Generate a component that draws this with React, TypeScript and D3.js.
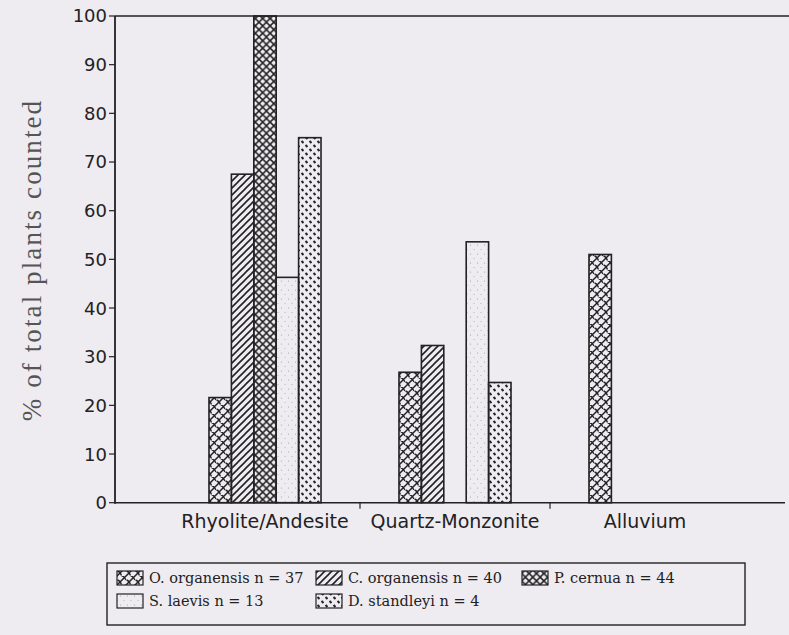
import React from "react";
import * as d3 from "d3";

const categories = ["Rhyolite/Andesite", "Quartz-Monzonite", "Alluvium"];
const species = ["O. organensis", "C. organensis", "P. cernua", "S. laevis", "D. standleyi"];
const sampleSizes = [37, 40, 44, 13, 4];
const oOrganensis = [21.6, 26.8, 51];
const cOrganensis = [67.5, 32.3, 0];
const pCernua = [100, 0, 0];
const sLaevis = [46.3, 53.6, 0];
const dStandleyi = [75, 24.7, 0];
const yTicks = [0, 10, 20, 30, 40, 50, 60, 70, 80, 90, 100];
const yLabel = "% of total plants counted";

const seriesValues = [oOrganensis, cOrganensis, pCernua, sLaevis, dStandleyi];
const patternIds = ["pO", "pC", "pP", "pS", "pD"];

const W = 789;
const H = 635;
const INK = "#222";

export default function App() {
  const y = d3.scaleLinear().domain([0, 100]).range([502.7, 16]);
  const x0 = d3.scaleBand<string>().domain(categories).range([170, 740]);
  const x1 = d3
    .scaleBand<string>()
    .domain(species)
    .range([0, x0.bandwidth()])
    .paddingInner(0)
    .paddingOuter(1.74);

  const bars: { key: string; x: number; y: number; w: number; h: number; s: number }[] = [];
  categories.forEach((c, ci) => {
    species.forEach((sp, si) => {
      const v = seriesValues[si][ci];
      if (v > 0) {
        bars.push({
          key: c + sp,
          x: (x0(c) as number) + (x1(sp) as number),
          y: y(v),
          w: x1.bandwidth(),
          h: y(0) - y(v),
          s: si,
        });
      }
    });
  });

  const legendCols = [117, 316, 522];
  const legendRows = [571, 594];
  const legendPos = [
    [0, 0],
    [1, 0],
    [2, 0],
    [0, 1],
    [1, 1],
  ];

  return (
    <svg
      width={W}
      height={H}
      style={{ position: "absolute", left: 0, top: 0, background: "#eeebf1" }}
    >
      <defs>
        <pattern id="pO" width="9" height="9" patternUnits="userSpaceOnUse">
          <path d="M0,9 L9,0 M-1,1 L1,-1 M8,10 L10,8" stroke={INK} strokeWidth="1.5" fill="none" />
          <path d="M0.5,4 Q3,4.5 4.5,8.5" stroke={INK} strokeWidth="1.3" fill="none" />
          <path d="M4.5,-0.5 Q7,0 9,4" stroke={INK} strokeWidth="1.3" fill="none" />
        </pattern>
        <pattern id="pC" width="7" height="7" patternUnits="userSpaceOnUse">
          <path d="M0,7 L7,0 M-1,1 L1,-1 M6,8 L8,6" stroke={INK} strokeWidth="1.6" fill="none" />
        </pattern>
        <pattern id="pP" width="7.4" height="7.4" patternUnits="userSpaceOnUse">
          <path d="M0,0 L7.4,7.4 M7.4,0 L0,7.4" stroke={INK} strokeWidth="1.5" fill="none" />
        </pattern>
        <pattern id="pS" width="7" height="9" patternUnits="userSpaceOnUse">
          <circle cx="1.5" cy="2" r="0.6" fill="#a0a0a0" />
          <circle cx="5" cy="6.5" r="0.6" fill="#b0b0b0" />
        </pattern>
        <pattern id="pD" width="8" height="8" patternUnits="userSpaceOnUse">
          <path d="M1.5,1 L3.5,3 M5.5,5 L7.5,7" stroke={INK} strokeWidth="2" fill="none" />
        </pattern>
      </defs>

      {/* frame lines */}
      <line x1={115} x2={789} y1={y(100)} y2={y(100)} stroke={INK} strokeWidth={1.4} />
      <line x1={115} x2={785} y1={y(0)} y2={y(0)} stroke={INK} strokeWidth={1.4} />
      <line x1={115} x2={115} y1={y(100)} y2={y(0) + 1} stroke={INK} strokeWidth={1.8} />

      {/* y ticks */}
      {yTicks.map((t) => (
        <g key={t}>
          <line x1={109} x2={115} y1={y(t)} y2={y(t)} stroke={INK} strokeWidth={1.2} />
          <text
            x={107}
            y={y(t)}
            dy="0.36em"
            textAnchor="end"
            fontFamily="DejaVu Sans"
            fontSize={18}
            fill={INK}
          >
            {t}
          </text>
        </g>
      ))}

      {/* x ticks between categories */}
      {categories.slice(1).map((c) => (
        <line
          key={c}
          x1={x0(c) as number}
          x2={x0(c) as number}
          y1={y(0)}
          y2={y(0) + 6}
          stroke={INK}
          strokeWidth={1.2}
        />
      ))}

      {/* bars */}
      {bars.map((b) => (
        <rect
          key={b.key}
          x={b.x}
          y={b.y}
          width={b.w}
          height={b.h}
          fill={`url(#${patternIds[b.s]})`}
          stroke={INK}
          strokeWidth={1.6}
        />
      ))}

      {/* category labels */}
      {categories.map((c) => (
        <text
          key={c}
          x={(x0(c) as number) + x0.bandwidth() / 2}
          y={528}
          textAnchor="middle"
          fontFamily="DejaVu Sans"
          fontSize={19}
          fill={INK}
        >
          {c}
        </text>
      ))}

      {/* y axis label */}
      <text
        transform="translate(41,260) rotate(-90)"
        textAnchor="middle"
        fontFamily="Liberation Serif"
        fontSize={27}
        letterSpacing={2.1}
        fill="#555"
      >
        {yLabel}
      </text>

      {/* legend */}
      <rect x={107} y={563} width={638} height={62} fill="none" stroke={INK} strokeWidth={1.4} />
      {species.map((sp, i) => {
        const lx = legendCols[legendPos[i][0]];
        const ly = legendRows[legendPos[i][1]];
        return (
          <g key={sp}>
            <rect
              x={lx}
              y={ly}
              width={26}
              height={14}
              fill={`url(#${patternIds[i]})`}
              stroke={INK}
              strokeWidth={1.2}
            />
            <text
              x={lx + 32}
              y={ly + 12}
              fontFamily="DejaVu Serif"
              fontSize={14.5}
              fill={INK}
            >
              {`${sp} n = ${sampleSizes[i]}`}
            </text>
          </g>
        );
      })}
    </svg>
  );
}
